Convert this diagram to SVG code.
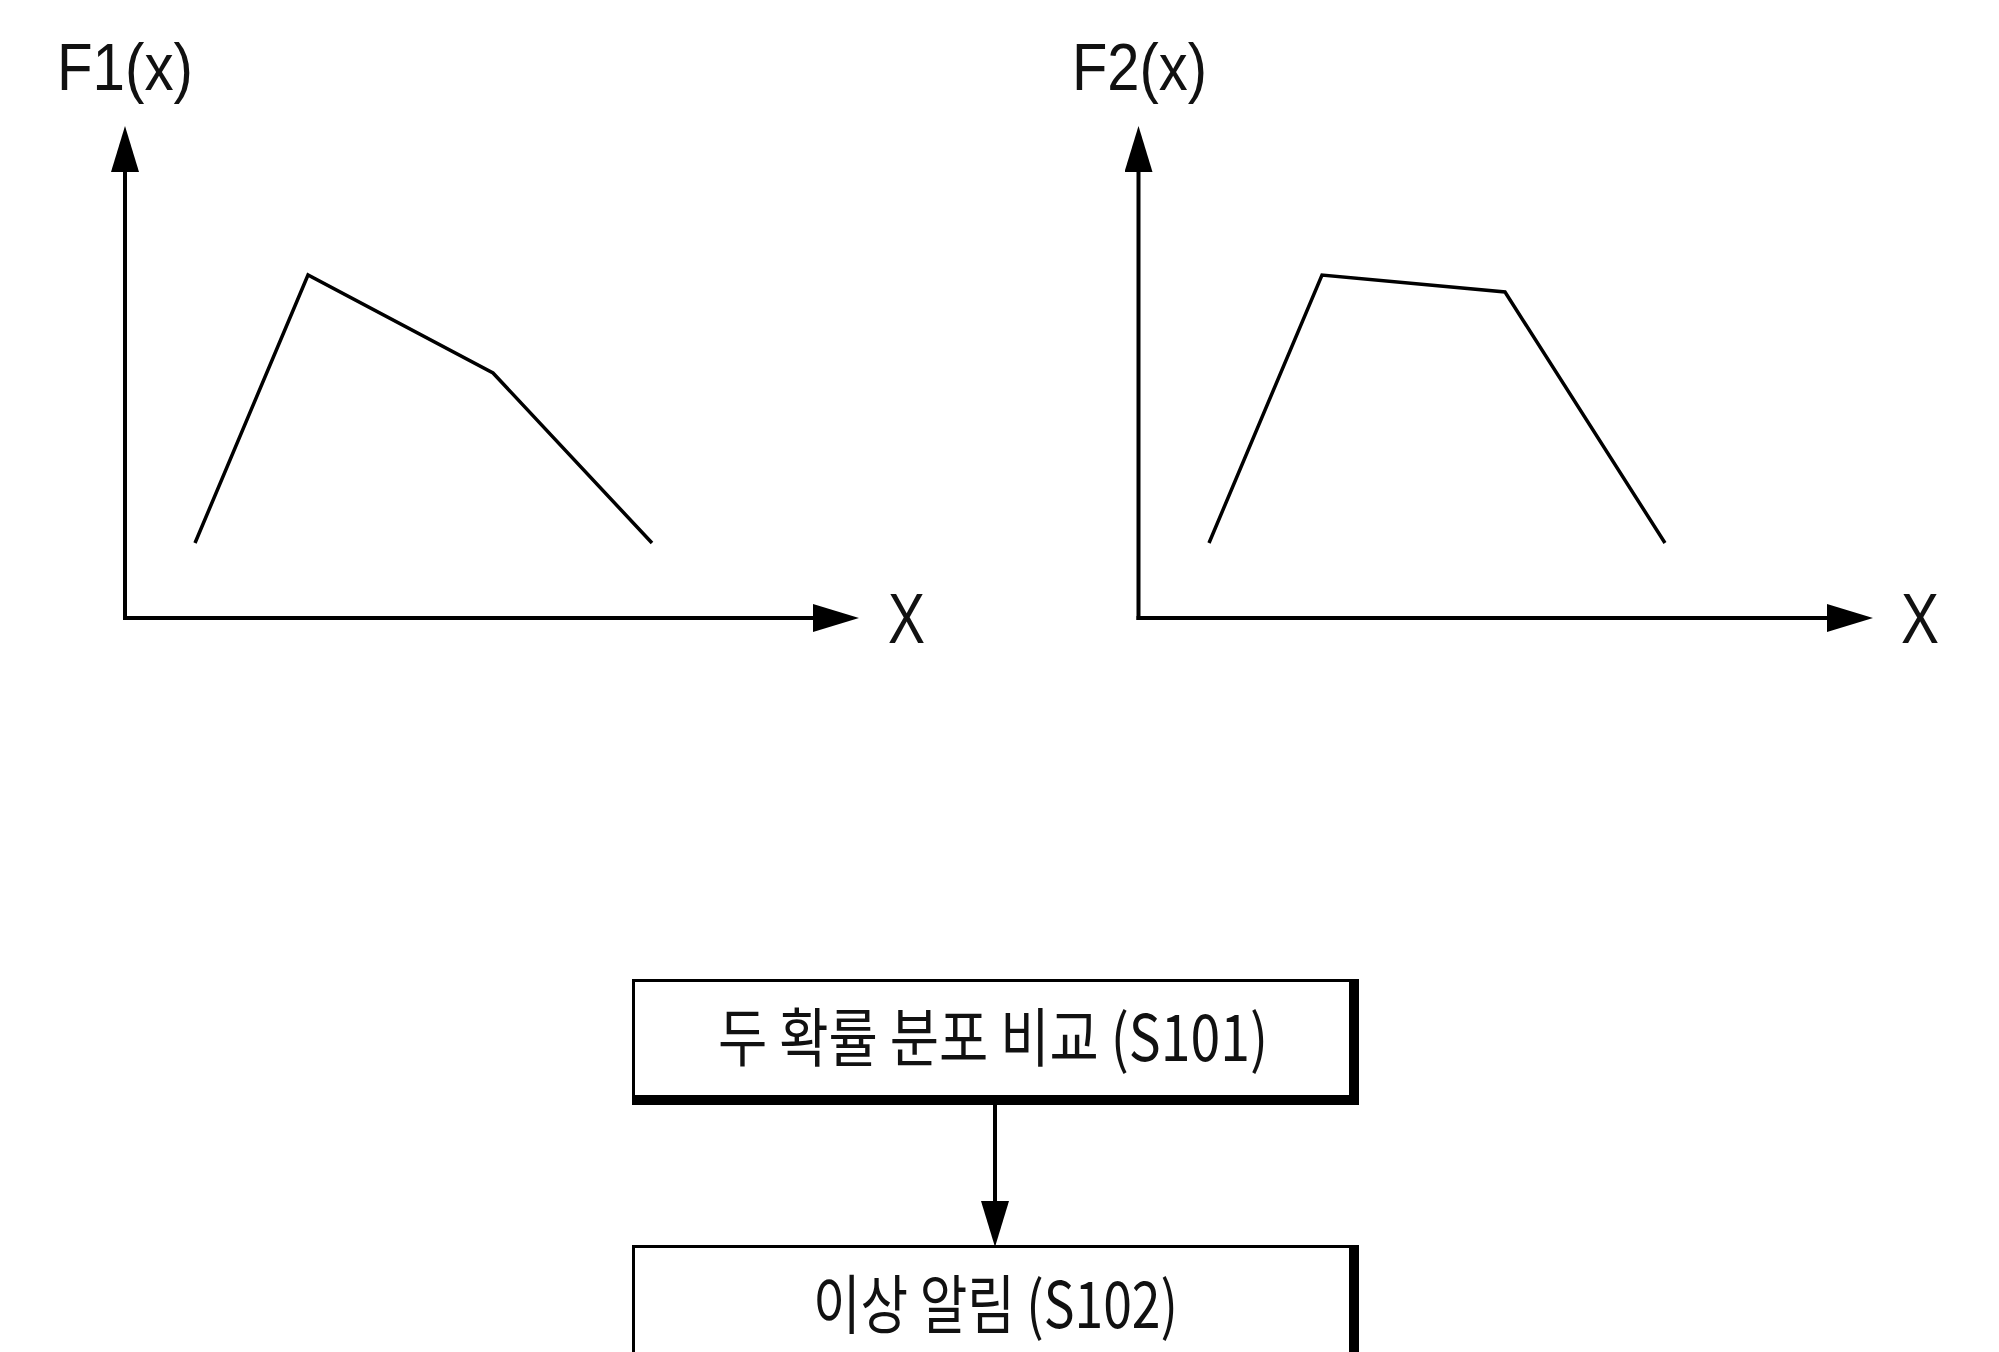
<svg xmlns="http://www.w3.org/2000/svg" width="1999" height="1352" viewBox="0 0 1999 1352">
<style>
.bg{fill:#fff}
.axis{stroke:#000;stroke-width:4;fill:none}
.curve{stroke:#000;stroke-width:3.5;fill:none;stroke-linejoin:miter}
.lbl{font-family:"Liberation Sans","Noto Sans",sans-serif;fill:#111}
.ktxt{font-family:"Noto Sans CJK KR","Noto Sans",sans-serif;font-size:64px;fill:#111}
.frame{fill:#000}
.inner{fill:#fff}
.conn{stroke:#000;stroke-width:4;fill:none}
</style>
<defs>
<marker id="ah" markerUnits="userSpaceOnUse" markerWidth="46" markerHeight="28" refX="26" refY="14" orient="auto" viewBox="0 0 46 28">
<path d="M0,0 L46,14 L0,28 Z" fill="#000"/>
</marker>
</defs>
<rect class="bg" x="0" y="0" width="1999" height="1352"/>

<g id="graph1">
<line class="axis" x1="125" y1="620" x2="125" y2="146" marker-end="url(#ah)"/>
<line class="axis" x1="123" y1="618" x2="839" y2="618" marker-end="url(#ah)"/>
<polyline class="curve" points="195,543 308,275 493,373 652,543"/>
<text class="lbl" x="57" y="90" font-size="66" textLength="136" lengthAdjust="spacingAndGlyphs">F1(x)</text>
<text class="lbl" x="888" y="643" font-size="70" textLength="37" lengthAdjust="spacingAndGlyphs">X</text>
</g>

<g id="graph2">
<line class="axis" x1="1138.5" y1="620" x2="1138.5" y2="146" marker-end="url(#ah)"/>
<line class="axis" x1="1136.5" y1="618" x2="1853" y2="618" marker-end="url(#ah)"/>
<polyline class="curve" points="1209,543 1322,275 1505,292 1665,543"/>
<text class="lbl" x="1072" y="90" font-size="66" textLength="135" lengthAdjust="spacingAndGlyphs">F2(x)</text>
<text class="lbl" x="1901" y="643" font-size="70" textLength="38" lengthAdjust="spacingAndGlyphs">X</text>
</g>

<g id="S101">
<rect class="frame" x="632" y="979" width="727" height="126"/>
<rect class="inner" x="635" y="982" width="714" height="113"/>
<text class="ktxt" x="718" y="1061" textLength="550" lengthAdjust="spacingAndGlyphs">두 확률 분포 비교 (S101)</text>
</g>

<g id="S102">
<rect class="frame" x="632" y="1245" width="727" height="126"/>
<rect class="inner" x="635" y="1248" width="714" height="113"/>
<text class="ktxt" x="813" y="1328" textLength="365" lengthAdjust="spacingAndGlyphs">이상 알림 (S102)</text>
</g>

<g id="connectors">
<line class="conn" x1="995" y1="1105" x2="995" y2="1227" marker-end="url(#ah)"/>
</g>
</svg>
